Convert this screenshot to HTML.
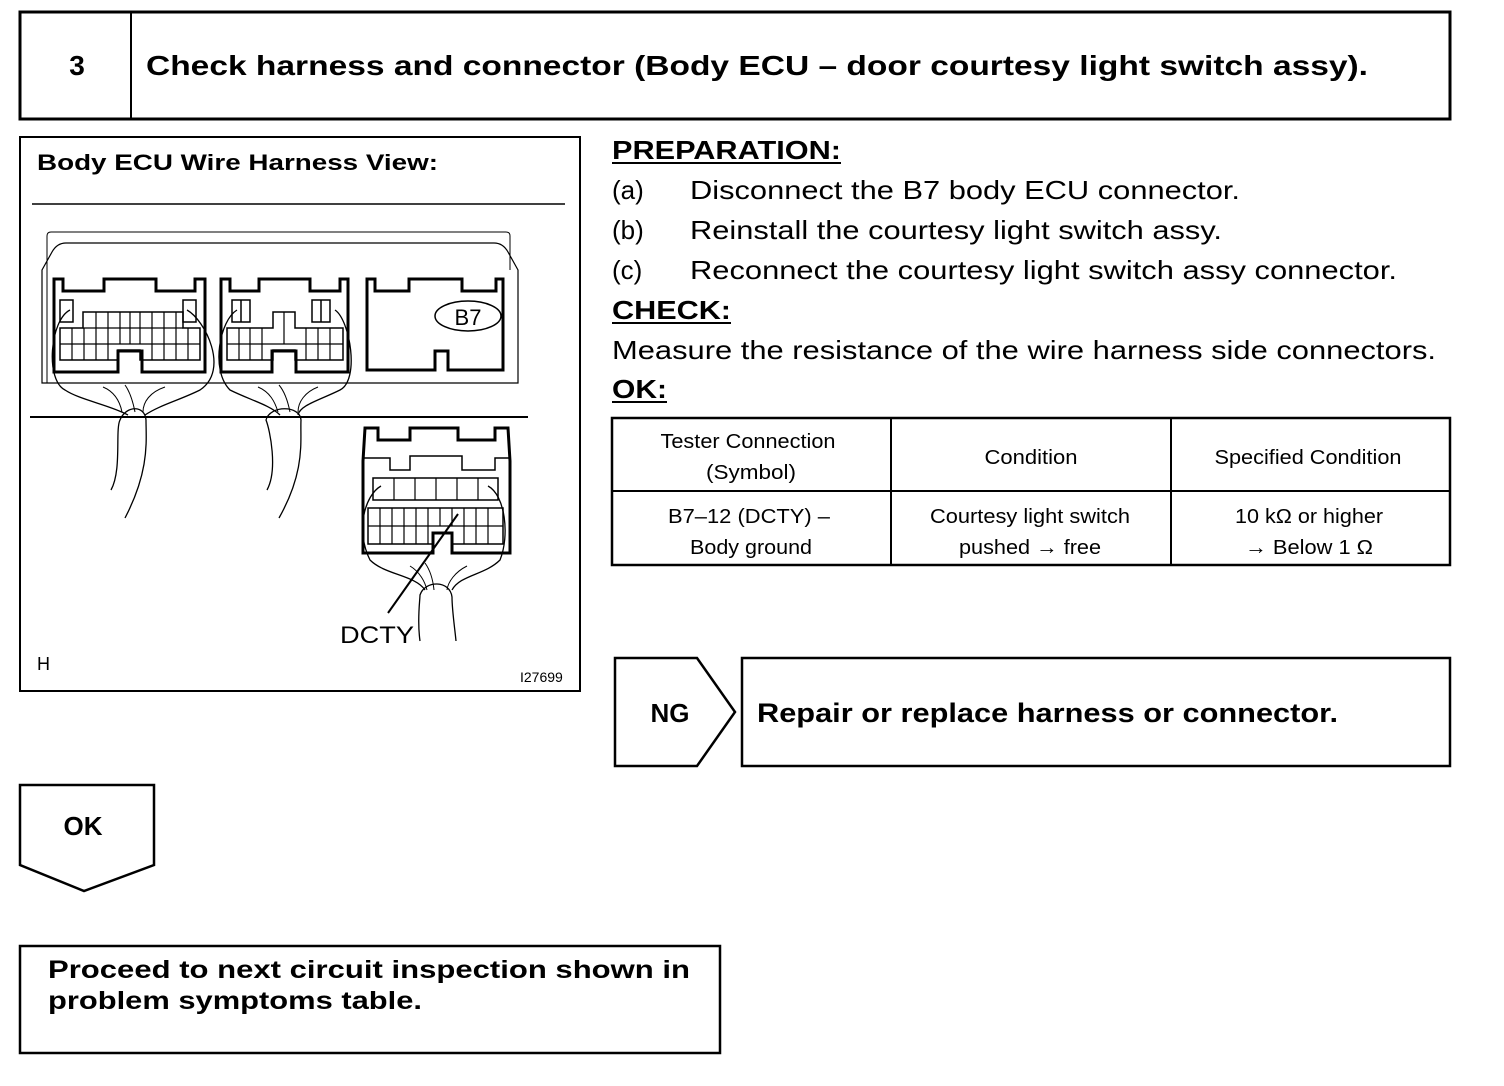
<!DOCTYPE html>
<html><head><meta charset="utf-8"><style>
html,body{margin:0;padding:0;background:#fff;}
svg{display:block;}
text{font-family:"Liberation Sans",Arial,sans-serif;fill:#000;}
</style></head><body>
<svg width="1504" height="1086" viewBox="0 0 1504 1086" xmlns="http://www.w3.org/2000/svg">
<g fill="none" stroke="#000">
<rect x="20" y="12" width="1430" height="107" stroke-width="3"/>
<line x1="131" y1="12" x2="131" y2="119" stroke-width="2"/>
<rect x="20" y="137" width="560" height="554" stroke-width="2"/>
<line x1="32" y1="204" x2="565" y2="204" stroke-width="1.5"/>
<line x1="30" y1="417" x2="528" y2="417" stroke-width="2"/>
<path d="M47,383 V236 q0,-4 4,-4 H506 q4,0 4,4 V270" stroke-width="1"/>
<path d="M42,383 V270 L52,252 Q57,243 66,243 H494 Q503,243 508,252 L518,270 V383 Z" stroke-width="1.2"/>
<path d="M54,372 V279 H63 V291 H104 V279 H156 V291 H195 V279 H205 V372 H142 V351 H118 V372 Z" stroke-width="3"/>
<rect x="60" y="300" width="13" height="22" stroke-width="1.5"/>
<rect x="183" y="300" width="13" height="22" stroke-width="1.5"/>
<path d="M60,328 V360 H118 V350 H140 V360 H200 V328 H183 V312 H83 V328 Z" stroke-width="1.5"/>
<path d="M60,344 H200 M72,328 V360 M84,328 V360 M96,312 V360 M108,312 V360 M120,312 V344 M130,312 V344 M140,312 V344 M152,312 V360 M164,312 V360 M176,312 V360 M188,328 V360 M83,328 H183" stroke-width="1.2"/>
<path d="M221,372 V279 H230 V291 H259 V279 H310 V291 H340 V279 H348 V372 H296 V351 H272 V372 Z" stroke-width="3"/>
<rect x="232" y="300" width="18" height="22" stroke-width="1.5"/><line x1="241" y1="300" x2="241" y2="322" stroke-width="1.5"/>
<rect x="312" y="300" width="18" height="22" stroke-width="1.5"/><line x1="321" y1="300" x2="321" y2="322" stroke-width="1.5"/>
<path d="M227,328 V360 H273 V350 H295 V360 H343 V328 H295 V312 H273 V328 Z" stroke-width="1.5"/>
<path d="M227,344 H343 M239,328 V360 M250,328 V360 M262,328 V360 M284,312 V344 M306,328 V360 M318,328 V360 M330,328 V360" stroke-width="1.2"/>
<path d="M367,370 V279 H375 V291 H409 V279 H462 V291 H496 V279 H503 V370 H448 V351 H435 V370 Z" stroke-width="3"/>
<ellipse cx="468" cy="316" rx="33" ry="15" stroke-width="1.5"/>
<path d="M70,310 C50,320 45,380 65,390 C80,400 110,405 128,415 M187,310 C205,320 230,370 200,390 C180,400 160,405 145,415" stroke-width="1.3"/>
<path d="M237,310 C220,320 210,370 230,390 C250,400 270,405 280,415 M335,310 C350,320 360,380 340,390 C320,400 300,405 298,415" stroke-width="1.3"/>
<path d="M103,387 C115,392 120,402 122,412 M125,385 C130,392 133,402 135,412 M165,387 C150,392 143,402 143,412" stroke-width="1"/>
<path d="M258,387 C270,392 275,402 278,412 M279,385 C285,392 288,402 290,412 M318,387 C305,392 298,402 298,412" stroke-width="1"/>
<path d="M111,490 C122,470 115,430 120,420 C126,405 145,405 146,420 C146,440 150,470 125,518" stroke-width="1.3"/>
<path d="M267,490 C278,470 270,430 266,420 C270,405 300,405 301,420 C300,440 306,470 279,518" stroke-width="1.3"/>
<path d="M363,553 V461 L365,428 H378 V440 H410 V428 H458 V440 H495 V428 H508 L510,461 V553 H452 V533 H433 V553 Z" stroke-width="3"/>
<path d="M363,458 H390 V470 H410 V456 H462 V470 H495 V458 H510" stroke-width="1.5"/>
<rect x="373" y="478" width="125" height="22" stroke-width="1.5"/>
<path d="M394,478 V500 M415,478 V500 M436,478 V500 M457,478 V500 M478,478 V500" stroke-width="1.2"/>
<path d="M368,508 V544 H433 V533 H452 V544 H503 V508 Z" stroke-width="1.5"/>
<path d="M368,526 H503 M380,508 V544 M392,508 V544 M404,508 V544 M416,508 V544 M428,508 V544 M440,508 V526 M452,508 V526 M464,508 V544 M476,508 V544 M488,508 V544" stroke-width="1.2"/>
<path d="M381,486 C365,495 355,530 370,560 C385,575 415,575 425,590 M488,486 C505,495 510,535 500,560 C485,575 460,575 452,590" stroke-width="1.3"/>
<path d="M410,566 C420,572 425,582 427,590 M425,563 C430,570 433,580 434,590 M467,566 C455,572 448,582 447,590" stroke-width="1"/>
<path d="M420,641 C417,620 420,600 420,595 C425,580 450,580 452,597 C452,610 455,630 456,641" stroke-width="1.3"/>
<line x1="458" y1="514" x2="388" y2="613" stroke-width="2"/>
<rect x="612" y="418" width="838" height="147" stroke-width="2.5"/>
<line x1="891" y1="418" x2="891" y2="565" stroke-width="2"/>
<line x1="1171" y1="418" x2="1171" y2="565" stroke-width="2"/>
<line x1="612" y1="491" x2="1450" y2="491" stroke-width="2"/>
<polygon points="615,658 697,658 735,712 697,766 615,766" stroke-width="2.5"/>
<rect x="742" y="658" width="708" height="108" stroke-width="2.5"/>
<polygon points="20,785 154,785 154,865 84,891 20,865" stroke-width="2.5"/>
<rect x="20" y="946" width="700" height="107" stroke-width="2.5"/>
</g>
<g stroke="#000" stroke-width="2">
<line x1="612" y1="163" x2="841" y2="163"/>
<line x1="612" y1="323" x2="731" y2="323"/>
<line x1="612" y1="402" x2="667" y2="402"/>
</g>
<g font-weight="bold">
<text x="77" y="75" font-size="28" text-anchor="middle">3</text>
<text x="146" y="75" font-size="28" textLength="1222" lengthAdjust="spacingAndGlyphs">Check harness and connector (Body ECU – door courtesy light switch assy).</text>
<text x="37" y="170" font-size="22" textLength="401" lengthAdjust="spacingAndGlyphs">Body ECU Wire Harness View:</text>
<text x="612" y="159" font-size="26" textLength="229" lengthAdjust="spacingAndGlyphs">PREPARATION:</text>
<text x="612" y="319" font-size="26" textLength="119" lengthAdjust="spacingAndGlyphs">CHECK:</text>
<text x="612" y="398" font-size="26" textLength="55" lengthAdjust="spacingAndGlyphs">OK:</text>
<text x="670" y="722" font-size="26" text-anchor="middle">NG</text>
<text x="757" y="722" font-size="27" textLength="581" lengthAdjust="spacingAndGlyphs">Repair or replace harness or connector.</text>
<text x="83" y="835" font-size="26" text-anchor="middle">OK</text>
<text x="48" y="978" font-size="25" textLength="642" lengthAdjust="spacingAndGlyphs">Proceed to next circuit inspection shown in</text>
<text x="48" y="1009" font-size="25" textLength="374" lengthAdjust="spacingAndGlyphs">problem symptoms table.</text>
</g>
<g font-size="26">
<text x="612" y="199">(a)</text><text x="690" y="199" textLength="550" lengthAdjust="spacingAndGlyphs">Disconnect the B7 body ECU connector.</text>
<text x="612" y="239">(b)</text><text x="690" y="239" textLength="532" lengthAdjust="spacingAndGlyphs">Reinstall the courtesy light switch assy.</text>
<text x="612" y="279">(c)</text><text x="690" y="279" textLength="707" lengthAdjust="spacingAndGlyphs">Reconnect the courtesy light switch assy connector.</text>
<text x="612" y="359" textLength="824" lengthAdjust="spacingAndGlyphs">Measure the resistance of the wire harness side connectors.</text>
</g>
<g font-size="20" text-anchor="middle" lengthAdjust="spacingAndGlyphs">
<text x="748" y="448" textLength="175" lengthAdjust="spacingAndGlyphs">Tester Connection</text>
<text x="751" y="479" textLength="90" lengthAdjust="spacingAndGlyphs">(Symbol)</text>
<text x="1031" y="464" textLength="93" lengthAdjust="spacingAndGlyphs">Condition</text>
<text x="1308" y="464" textLength="187" lengthAdjust="spacingAndGlyphs">Specified Condition</text>
<text x="749" y="523" textLength="162" lengthAdjust="spacingAndGlyphs">B7–12 (DCTY) –</text>
<text x="751" y="554" textLength="122" lengthAdjust="spacingAndGlyphs">Body ground</text>
<text x="1030" y="523" textLength="200" lengthAdjust="spacingAndGlyphs">Courtesy light switch</text>
<text x="1030" y="554" textLength="142" lengthAdjust="spacingAndGlyphs">pushed → free</text>
<text x="1309" y="523" textLength="148" lengthAdjust="spacingAndGlyphs">10 kΩ or higher</text>
<text x="1309" y="554" textLength="128" lengthAdjust="spacingAndGlyphs">→ Below 1 Ω</text>
</g>
<text x="468" y="325" font-size="22" text-anchor="middle">B7</text>
<text x="340" y="643" font-size="24" textLength="74" lengthAdjust="spacingAndGlyphs">DCTY</text>
<text x="37" y="670" font-size="18">H</text>
<text x="520" y="682" font-size="14">I27699</text>
</svg>
</body></html>
